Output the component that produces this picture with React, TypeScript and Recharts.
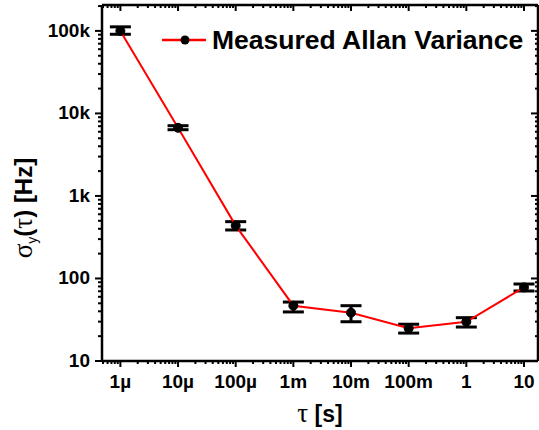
import React from "react";
import { LineChart, Line, XAxis, YAxis, ErrorBar, Label } from "recharts";

// averaging time tau [s] and Allan deviation sigma_y [Hz]
const tauValues = [1e-6, 1e-5, 1e-4, 1e-3, 1e-2, 1e-1, 1, 10];
const tauLabels = ["1µ", "10µ", "100µ", "1m", "10m", "100m", "1", "10"];
const sigmaValues = [100000, 6700, 437, 46.8, 38.5, 24.9, 29.9, 78];
const sigmaErrLow = [9000, 350, 50, 7.5, 8.6, 3.1, 4.1, 7.5];
const sigmaErrHigh = [12000, 400, 51, 5, 8.3, 3, 3.6, 7.7];
const yTickValues = [10, 100, 1000, 10000, 100000];
const yTickLabels = ["10", "100", "1k", "10k", "100k"];

const xDomain = [4.8e-7, 17.5];
const yDomain = [10, 206000];

const font = "'Liberation Sans', Arial, sans-serif";

const data = tauValues.map((tau, i) => ({
  tau,
  sigma: sigmaValues[i],
  err: [sigmaErrLow[i], sigmaErrHigh[i]],
}));

function logTicks(lo: number, hi: number) {
  const out: number[] = [];
  for (let e = Math.floor(Math.log10(lo)); e <= Math.ceil(Math.log10(hi)); e++) {
    for (let k = 1; k <= 9; k++) {
      const v = Number((k * Math.pow(10, e)).toPrecision(6));
      if (v >= lo && v <= hi) out.push(v);
    }
  }
  return out;
}

const xTicks = logTicks(xDomain[0], xDomain[1]);
const yTicks = logTicks(yDomain[0], yDomain[1]);

const majorIndex = (v: number, majors: number[]) =>
  majors.findIndex((m) => Math.abs(v / m - 1) < 1e-6);

const tickText = { fontFamily: font, fontWeight: 700, fontSize: 19, fill: "#000" };

const BottomTick = ({ x, y, payload }: any) => {
  const i = majorIndex(payload.value, tauValues);
  return (
    <g>
      <line x1={x} x2={x} y1={y} y2={y + (i >= 0 ? 6 : 3)} stroke="#000" strokeWidth={2} />
      {i >= 0 && (
        <text x={x} y={y + 27} textAnchor="middle" style={tickText}>
          {tauLabels[i]}
        </text>
      )}
    </g>
  );
};

const TopTick = ({ x, y, payload }: any) => {
  const major = majorIndex(payload.value, tauValues) >= 0;
  return <line x1={x} x2={x} y1={y} y2={y + (major ? 6 : 3)} stroke="#000" strokeWidth={2} />;
};

const LeftTick = ({ x, y, payload }: any) => {
  const i = majorIndex(payload.value, yTickValues);
  return (
    <g>
      <line x1={x} x2={x - (i >= 0 ? 7 : 4)} y1={y} y2={y} stroke="#000" strokeWidth={2} />
      {i >= 0 && (
        <text x={x - 12} y={y + 6} textAnchor="end" style={tickText}>
          {yTickLabels[i]}
        </text>
      )}
    </g>
  );
};

const RightTick = ({ x, y, payload }: any) => {
  const major = majorIndex(payload.value, yTickValues) >= 0;
  return <line x1={x} x2={x - (major ? 7 : 3)} y1={y} y2={y} stroke="#000" strokeWidth={2} />;
};

const XTitle = ({ viewBox }: any) => (
  <text
    x={viewBox.x + viewBox.width / 2}
    y={viewBox.y + 61}
    textAnchor="middle"
    style={{ fontFamily: font, fontWeight: 700, fontSize: 23, fill: "#000" }}
  >
    <tspan style={{ fontFamily: "'Liberation Serif', serif", fontWeight: 400, fontSize: 27 }}>τ</tspan>
    <tspan> [s]</tspan>
  </text>
);

const YTitle = () => (
  <text
    transform="translate(32,208) rotate(-90)"
    textAnchor="middle"
    style={{ fontFamily: font, fontWeight: 700, fontSize: 24, fill: "#000" }}
  >
    <tspan style={{ fontFamily: "'Liberation Serif', serif", fontWeight: 400, fontSize: 27 }}>σ</tspan>
    <tspan dy={5} style={{ fontSize: 14, fontWeight: 400 }}>y</tspan>
    <tspan dy={-5}>(</tspan>
    <tspan style={{ fontFamily: "'Liberation Serif', serif", fontWeight: 400, fontSize: 27 }}>τ</tspan>
    <tspan>) [Hz]</tspan>
  </text>
);

// legend sits on top of the plot, outside recharts layout
const LegendBox = () => (
  <div
    style={{
      position: "absolute", left: 162, top: 27, display: "flex", alignItems: "center",
      fontFamily: font, fontWeight: 700, fontSize: 26.5, lineHeight: 1, color: "#000",
    }}
  >
    <svg width={44} height={12}>
      <line x1={0} y1={6} x2={44} y2={6} stroke="#ff0000" strokeWidth={2.5} />
      <circle cx={23} cy={6} r={4.5} fill="#000" />
    </svg>
    <span style={{ marginLeft: 6, whiteSpace: "nowrap" }}>Measured Allan Variance</span>
  </div>
);

export default function App() {
  return (
    <div style={{ position: "absolute", left: 0, top: 0, width: 539, height: 430, background: "#fff" }}>
      <LineChart width={539} height={430} data={data} margin={{ top: 4, right: 0, left: 0, bottom: 39 }}>
        <XAxis
          xAxisId="b"
          dataKey="tau"
          type="number"
          scale="log"
          domain={xDomain}
          allowDataOverflow
          ticks={xTicks}
          interval={0}
          tickSize={0}
          tickMargin={0}
          tick={<BottomTick />}
          height={30}
          axisLine={{ stroke: "#000", strokeWidth: 2.5 }}
        >
          <Label content={<XTitle />} />
        </XAxis>
        <XAxis
          xAxisId="t"
          orientation="top"
          dataKey="tau"
          type="number"
          scale="log"
          domain={xDomain}
          allowDataOverflow
          ticks={xTicks}
          interval={0}
          tickSize={0}
          tickMargin={0}
          tick={<TopTick />}
          height={1}
          axisLine={{ stroke: "#000", strokeWidth: 2.5 }}
        />
        <YAxis
          yAxisId="l"
          type="number"
          scale="log"
          domain={yDomain}
          allowDataOverflow
          ticks={yTicks}
          interval={0}
          tickSize={0}
          tickMargin={0}
          tick={<LeftTick />}
          width={102}
          axisLine={{ stroke: "#000", strokeWidth: 2.5 }}
        >
          <Label content={<YTitle />} />
        </YAxis>
        <YAxis
          yAxisId="r"
          orientation="right"
          type="number"
          scale="log"
          domain={yDomain}
          allowDataOverflow
          ticks={yTicks}
          interval={0}
          tickSize={0}
          tickMargin={0}
          tick={<RightTick />}
          width={1}
          axisLine={{ stroke: "#000", strokeWidth: 2.5 }}
        />
        {/* invisible series so the mirrored top/right axes get drawn */}
        <Line
          xAxisId="t"
          yAxisId="r"
          dataKey="sigma"
          stroke="none"
          dot={false}
          activeDot={false}
          legendType="none"
          isAnimationActive={false}
        />
        <Line
          xAxisId="b"
          yAxisId="l"
          dataKey="sigma"
          stroke="#ff0000"
          strokeWidth={2}
          dot={{ r: 4.5, fill: "#000", stroke: "#000", strokeWidth: 1 }}
          activeDot={false}
          isAnimationActive={false}
        >
          <ErrorBar dataKey="err" direction="y" width={10.5} stroke="#000" strokeWidth={3} isAnimationActive={false} />
        </Line>
      </LineChart>
      <LegendBox />
    </div>
  );
}
